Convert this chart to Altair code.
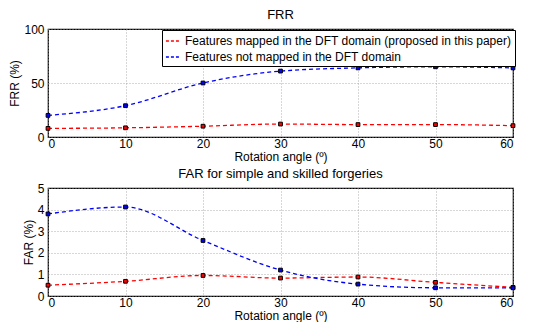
import altair as alt
import pandas as pd

angles = [0, 10, 20, 30, 40, 50, 60]
frr_mapped = [8, 8.5, 10, 12, 11.5, 11.5, 10.5]
frr_not = [20, 29, 50, 61, 64, 65, 64]
far_mapped = [0.5, 0.68, 0.95, 0.83, 0.88, 0.63, 0.4]
far_not = [3.8, 4.12, 2.57, 1.2, 0.55, 0.38, 0.38]
series = ["Features mapped in the DFT domain (proposed in this paper)",
          "Features not mapped in the DFT domain"]
colors = ["#ff0000", "#0000ff"]

FONT = "Liberation Sans"


def make_df(a, b):
    rows = []
    for x, y in zip(angles, a):
        rows.append({"angle": x, "value": y, "series": series[0]})
    for x, y in zip(angles, b):
        rows.append({"angle": x, "value": y, "series": series[1]})
    return pd.DataFrame(rows)


def panel(df, title, ytitle, ymax, ystep):
    x = alt.X("angle:Q", title="Rotation angle (º)",
              scale=alt.Scale(domain=[0, 60], nice=False),
              axis=alt.Axis(values=angles, grid=True))
    y = alt.Y("value:Q", title=ytitle,
              scale=alt.Scale(domain=[0, ymax], nice=False),
              axis=alt.Axis(values=list(range(0, ymax + 1, ystep)), grid=True))
    color = alt.Color("series:N",
                      scale=alt.Scale(domain=series, range=colors),
                      legend=alt.Legend(title=None, orient="none",
                                        legendX=114, legendY=1,
                                        symbolType="stroke",
                                        symbolDash=[3, 2],
                                        symbolStrokeWidth=1.5,
                                        symbolSize=200,
                                        labelLimit=500,
                                        labelFontSize=12,
                                        labelFont=FONT,
                                        labelColor="black",
                                        strokeColor="black",
                                        fillColor="white",
                                        padding=3,
                                        rowPadding=2,
                                        offset=0))
    line = alt.Chart(df).mark_line(strokeDash=[4, 3], strokeWidth=1.3,
                                   interpolate="monotone").encode(
        x=x, y=y, color=color)
    pts = alt.Chart(df).mark_square(size=14, stroke="black", strokeWidth=1,
                                    filled=True, opacity=1).encode(
        x=x, y=y, fill=alt.Fill("series:N", scale=alt.Scale(domain=series, range=colors), legend=None))
    return alt.layer(line, pts).properties(
        width=465, height=108,
        title=alt.TitleParams(title, fontSize=13, font=FONT, fontWeight="normal",
                              offset=1, color="black"))


top = panel(make_df(frr_mapped, frr_not), "FRR", "FRR (%)", 100, 50)
bottom = panel(make_df(far_mapped, far_not), "FAR for simple and skilled forgeries",
               "FAR (%)", 5, 1)

chart = alt.vconcat(top, bottom, spacing=4).properties(padding=0).configure_view(
    stroke="black", strokeWidth=1.2
).configure_axis(
    labelFont=FONT, titleFont=FONT, labelFontSize=12, titleFontSize=12,
    labelColor="black", titleColor="black", titleFontWeight="normal",
    domain=False, ticks=False, labelPadding=4, titlePadding=2,
    gridColor="#999", gridDash=[1, 2], gridWidth=0.8
).configure_axisX(titlePadding=2, labelPadding=1).configure_concat(spacing=4)

chart.save("out.html", embed_options={"renderer": "svg", "actions": False})
